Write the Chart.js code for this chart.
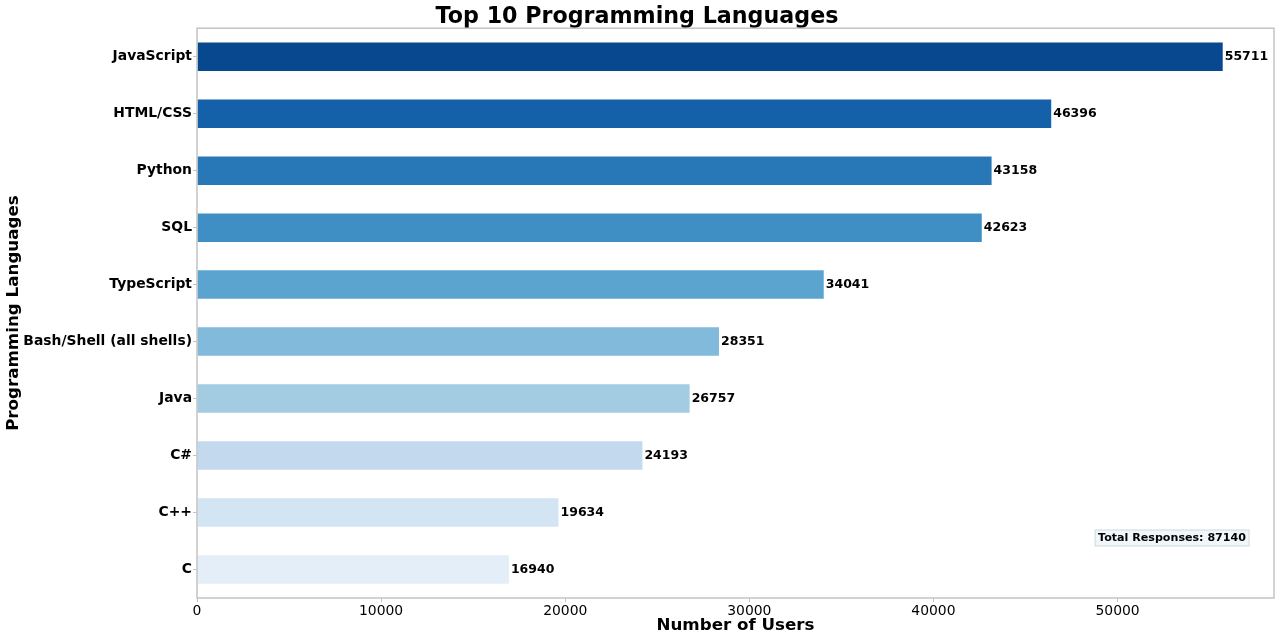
<!DOCTYPE html>
<html>
<head>
<meta charset="utf-8">
<script src="https://cdn.jsdelivr.net/npm/chart.js@4/dist/chart.umd.min.js"></script>
<style>
html,body{margin:0;padding:0;background:#fff;}
#wrap{width:1280px;height:640px;}
</style>
</head>
<body>
<div id="wrap"><canvas id="c" width="1280" height="640"></canvas></div>
<script>
const languages = ["JavaScript","HTML/CSS","Python","SQL","TypeScript","Bash/Shell (all shells)","Java","C#","C++","C"];
const users = [55711,46396,43158,42623,34041,28351,26757,24193,19634,16940];
const barColors = ["#08488e","#1461a9","#2878b8","#3f8fc5","#5ca4d0","#81badb","#a3cce3","#c2d9ee","#d3e4f3","#e3eef8"];
const xTicks = [0,10000,20000,30000,40000,50000];
const totalResponses = 87140;
const xMax = 55711*1.05;

const FONT = "'DejaVu Sans', sans-serif";

const framePlugin = {
  id: 'frame',
  afterDatasetsDraw(chart){
    const {ctx, chartArea:a} = chart;
    ctx.save();
    ctx.strokeStyle = '#c4c4c4';
    ctx.lineWidth = 1.5;
    ctx.strokeRect(a.left, a.top, a.right-a.left, a.bottom-a.top);
    // value labels
    const meta = chart.getDatasetMeta(0);
    ctx.fillStyle = '#000';
    ctx.font = "bold 12.5px " + FONT;
    ctx.textAlign = 'left';
    ctx.textBaseline = 'middle';
    meta.data.forEach((bar,i)=>{
      ctx.fillText(String(users[i]), bar.x + 2, bar.y);
    });
    // total responses box
    const txt = 'Total Responses: ' + totalResponses;
    ctx.font = "bold 11.1px " + FONT;
    const w = ctx.measureText(txt).width;
    const right = a.right - 28, cy = a.bottom - 60;
    const left = right - w;
    ctx.fillStyle = '#eff7fb';
    ctx.fillRect(left-3, cy-8, w+6, 16);
    ctx.strokeStyle = '#d0d8dc';
    ctx.lineWidth = 1;
    ctx.strokeRect(left-3, cy-8, w+6, 16);
    ctx.fillStyle = '#000';
    ctx.textAlign = 'left';
    ctx.fillText(txt, left, cy+0.5);
    ctx.restore();
  }
};

new Chart(document.getElementById('c'), {
  type: 'bar',
  data: {
    labels: languages,
    datasets: [{
      data: users,
      backgroundColor: barColors,
      borderWidth: 0,
      categoryPercentage: 0.5,
      barPercentage: 1.0
    }]
  },
  options: {
    indexAxis: 'y',
    responsive: false,
    animation: false,
    layout: { padding: { left: 0, right: 6, top: 0, bottom: 1 } },
    plugins: {
      legend: { display: false },
      tooltip: { enabled: false },
      title: {
        display: true,
        text: 'Top 10 Programming Languages',
        color: '#000',
        font: { family: FONT, size: 22.2, weight: 'bold', lineHeight: 1.0 },
        padding: { top: 6, bottom: 0 }
      }
    },
    scales: {
      x: {
        type: 'linear',
        min: 0,
        max: xMax,
        afterBuildTicks(scale){ scale.ticks = xTicks.map(v=>({value:v})); },
        afterFit(scale){ scale.height = 41; },
        grid: { display: true, drawOnChartArea: false, drawTicks: true, tickLength: 4, color: '#c4c4c4' },
        border: { display: false },
        ticks: { color: '#000', padding: 1, font: { family: FONT, size: 13.9 }, maxRotation: 0, callback: v => String(v) },
        title: { display: true, text: 'Number of Users', color: '#000', padding: { top: 0, bottom: 3 }, font: { family: FONT, size: 16.7, weight: 'bold', lineHeight: 1.2 } }
      },
      y: {
        type: 'category',
        offset: true,
        afterFit(scale){ scale.width = 197; },
        grid: { display: true, drawOnChartArea: false, drawTicks: true, tickLength: 4, color: '#c4c4c4', offset: false },
        border: { display: false },
        ticks: { color: '#000', padding: 1, font: { family: FONT, size: 13.9, weight: 'bold' } },
        title: { display: true, text: 'Programming Languages', color: '#000', padding: { top: 4, bottom: 0 }, font: { family: FONT, size: 16.7, weight: 'bold', lineHeight: 1.2 } }
      }
    }
  },
  plugins: [framePlugin]
});
</script>
</body>
</html>
